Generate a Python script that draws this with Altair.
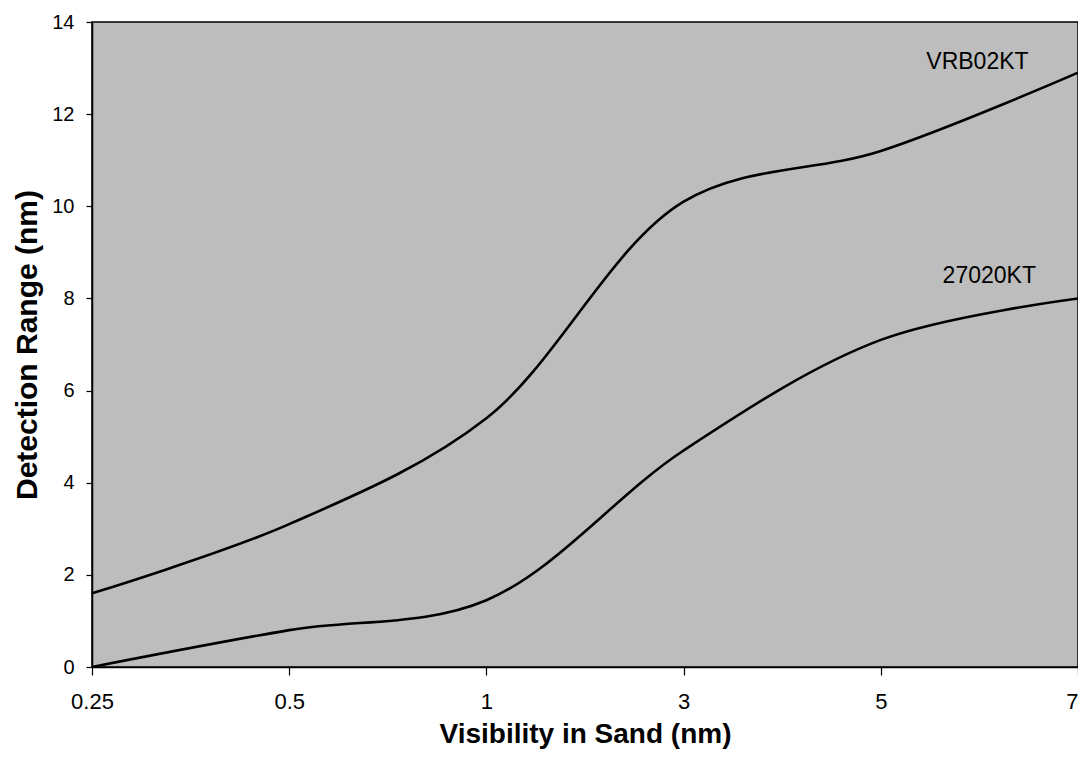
import altair as alt
import pandas as pd

# Data
x_labels = ["0.25", "0.5", "1", "3", "5", "7"]
vrb02kt = [1.6, 3.1, 5.4, 10.1, 11.2, 12.9]
kt27020 = [0.0, 0.8, 1.45, 4.7, 7.1, 8.0]

series_names = ["VRB02KT", "27020KT"]
label_x = [4.49, 4.55]
label_y = [13.13, 8.49]

rows = []
for i, lab in enumerate(x_labels):
    rows.append({"idx": i, "vis": lab, "series": "VRB02KT", "range": vrb02kt[i]})
    rows.append({"idx": i, "vis": lab, "series": "27020KT", "range": kt27020[i]})
df = pd.DataFrame(rows)
labels_df = pd.DataFrame({"series": series_names, "lx": label_x, "ly": label_y})

label_expr = "[" + ",".join("'%s'" % s for s in x_labels) + "][datum.value]"
last_idx = len(x_labels) - 1

x_scale = alt.Scale(domain=[0, last_idx], nice=False, zero=False)
y_scale = alt.Scale(domain=[0, 14], nice=False)

lines = alt.Chart(df).mark_line(
    interpolate="catmull-rom", color="#000000", strokeWidth=2.6
).encode(
    x=alt.X("idx:Q", scale=x_scale,
            axis=alt.Axis(title="Visibility in Sand (nm)", values=list(range(len(x_labels))),
                          labelExpr=label_expr, grid=False, tickSize=8, labelPadding=16,
                          labelFontSize=22, titleFontSize=28, titlePadding=8,
                          labelFlush=False,
                          labelAlign=alt.ExprRef("datum.value == %d ? 'right' : 'center'" % last_idx))),
    y=alt.Y("range:Q", scale=y_scale,
            axis=alt.Axis(title="Detection Range (nm)", values=list(range(0, 15, 2)),
                          grid=False, tickSize=6, labelPadding=12, labelFontSize=20,
                          titleFontSize=30, titlePadding=9, labelFlush=False)),
    detail="series:N",
)

texts = alt.Chart(labels_df).mark_text(
    fontSize=23, color="#000000", align="center", baseline="middle", font="Liberation Sans"
).encode(
    x=alt.X("lx:Q", scale=x_scale),
    y=alt.Y("ly:Q", scale=y_scale),
    text="series:N",
)

chart = alt.layer(lines, texts).properties(
    width=986, height=645,
    background="#ffffff",
    autosize=alt.AutoSizeParams(type="none"),
    padding={"left": 84, "top": 14, "right": 0, "bottom": 84},
).configure_view(
    fill="#bdbdbd", stroke="#000000", strokeWidth=1.5
).configure_axis(
    domainColor="#000000", domainWidth=1.5, tickColor="#000000", tickWidth=1.2,
    labelColor="#000000", titleColor="#000000",
    labelFont="Liberation Sans", titleFont="Liberation Sans",
    titleFontWeight="bold",
)

chart.save("out.html", embed_options={"renderer": "svg", "actions": False})
